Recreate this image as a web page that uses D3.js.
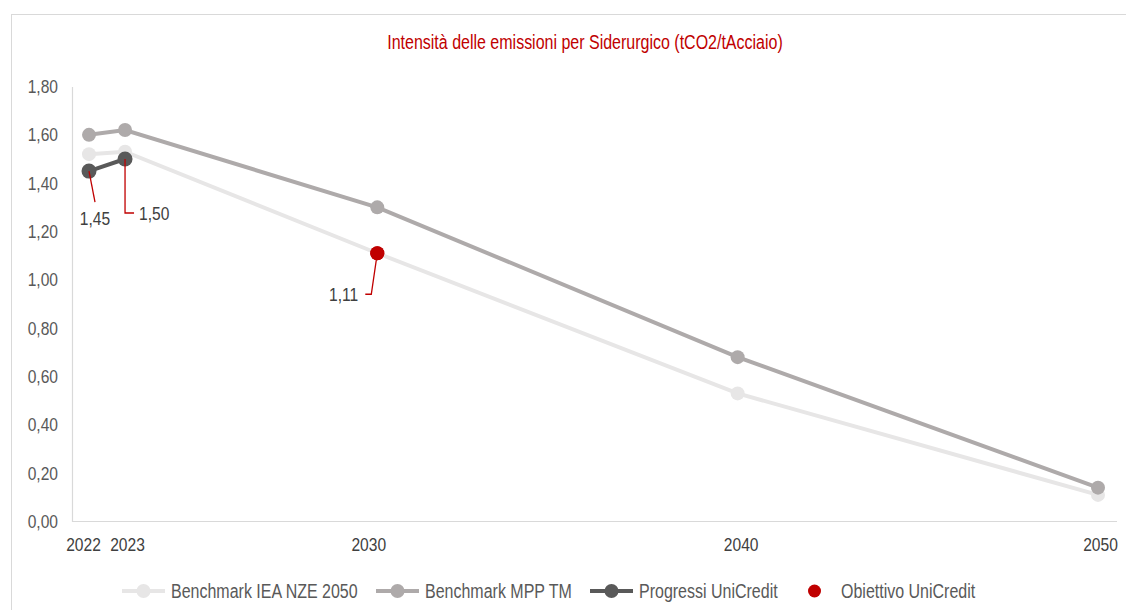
<!DOCTYPE html>
<html>
<head>
<meta charset="utf-8">
<script src="https://cdn.jsdelivr.net/npm/d3@7"></script>
<style>
  body { margin: 0; background: #fff; }
  svg text { font-family: "Liberation Sans", Arial, sans-serif; }
</style>
</head>
<body>
<div id="chart"></div>
<script>
// data
const title = "Intensità delle emissioni per Siderurgico (tCO2/tAcciaio)";
const years = [2022, 2023, 2030, 2040, 2050];
const yTicks = [0, 0.2, 0.4, 0.6, 0.8, 1.0, 1.2, 1.4, 1.6, 1.8];

const ieaYears = [2022, 2023, 2030, 2040, 2050];
const ieaValues = [1.52, 1.53, 1.11, 0.53, 0.11];

const mppYears = [2022, 2023, 2030, 2040, 2050];
const mppValues = [1.60, 1.62, 1.30, 0.68, 0.14];

const progYears = [2022, 2023];
const progValues = [1.45, 1.50];

const targetYears = [2030];
const targetValues = [1.11];

const seriesNames = ["Benchmark IEA NZE 2050", "Benchmark MPP TM", "Progressi UniCredit", "Obiettivo UniCredit"];

const W = 1126, H = 610;
const margin = {top: 86.5, right: 28, bottom: 88.5, left: 72};

const it = d3.formatLocale({decimal: ",", thousands: ".", grouping: [3], currency: ["€", ""]});
const fmt = it.format(".2f");

// no narrow font installed: squeeze the glyphs like Arial Narrow
function condense(sel, k = 0.82) {
  sel.each(function () {
    const len = this.getComputedTextLength();
    d3.select(this)
      .attr("textLength", len * k)
      .attr("lengthAdjust", "spacingAndGlyphs");
  });
}

const svg = d3.select("#chart").append("svg")
    .attr("width", W)
    .attr("height", H);

// frame
svg.append("rect")
    .attr("x", 11.5).attr("y", 14.5)
    .attr("width", W + 10).attr("height", H)
    .attr("fill", "none")
    .attr("stroke", "#d9d9d9");

svg.append("text")
    .attr("x", 585).attr("y", 49)
    .attr("text-anchor", "middle")
    .attr("fill", "#c00000")
    .style("font-size", "19.5px")
    .text(title)
    .call(condense);

const x = d3.scaleLinear()
    .domain([2022, 2050])
    .range([89, 1098]);

const y = d3.scaleLinear()
    .domain([0, 1.8])
    .range([H - margin.bottom, margin.top]);

// y axis
const yAxis = svg.append("g")
    .attr("transform", "translate(" + margin.left + ",0)")
    .call(d3.axisLeft(y).tickValues(yTicks).tickSize(0).tickPadding(14).tickFormat(fmt));
yAxis.select(".domain").attr("stroke", "#d9d9d9").attr("stroke-width", 1.2);
yAxis.selectAll("text").attr("fill", "#595959").style("font-size", "19px").call(condense);

// x axis
const xAxis = svg.append("g")
    .attr("transform", "translate(0," + y(0) + ")")
    .call(d3.axisBottom(x).tickValues(years).tickSize(0).tickPadding(16).tickFormat(d3.format("d")));
xAxis.select(".domain").remove();
xAxis.append("line")
    .attr("x1", margin.left).attr("x2", 1117)
    .attr("stroke", "#d9d9d9").attr("stroke-width", 1.2);
xAxis.selectAll(".tick text")
    .attr("fill", "#404040")
    .style("font-size", "19px")
    .attr("dx", d => d === 2022 ? -6 : d === 2023 ? 2 : d === 2030 ? -9 : d === 2040 ? 3 : 2)
    .call(condense);

const line = d3.line()
    .x(d => x(d[0]))
    .y(d => y(d[1]));

const series = [
  {name: seriesNames[0], data: d3.zip(ieaYears, ieaValues), color: "#e7e6e6", r: 7, line: true},
  {name: seriesNames[1], data: d3.zip(mppYears, mppValues), color: "#aeaaaa", r: 7, line: true},
  {name: seriesNames[2], data: d3.zip(progYears, progValues), color: "#595959", r: 7.5, line: true},
  {name: seriesNames[3], data: d3.zip(targetYears, targetValues), color: "#c00000", r: 7, line: false}
];

series.forEach(s => {
  const g = svg.append("g");
  if (s.line) {
    g.append("path")
      .datum(s.data)
      .attr("d", line)
      .attr("fill", "none")
      .attr("stroke", s.color)
      .attr("stroke-width", 4);
  }
  g.selectAll("circle")
    .data(s.data)
    .enter()
    .append("circle")
      .attr("cx", d => x(d[0]))
      .attr("cy", d => y(d[1]))
      .attr("r", s.r)
      .attr("fill", s.color);
});

// data labels with red leader lines
const labels = [
  {d: [progYears[0], progValues[0]], path: (px, py) => [[px, py], [px + 6, py + 31]], tx: 6, ty: 47, anchor: "middle"},
  {d: [progYears[1], progValues[1]], path: (px, py) => [[px, py], [px, py + 54], [px + 9, py + 54]], tx: 14, ty: 54, anchor: "start"},
  {d: [targetYears[0], targetValues[0]], path: (px, py) => [[px, py], [px - 6, py + 41], [px - 12, py + 41]], tx: -19, ty: 41, anchor: "end"}
];

labels.forEach(l => {
  const px = x(l.d[0]), py = y(l.d[1]);
  svg.append("path")
    .attr("d", d3.line()(l.path(px, py)))
    .attr("fill", "none")
    .attr("stroke", "#c00000")
    .attr("stroke-width", 1.3);
  svg.append("text")
    .attr("x", px + l.tx)
    .attr("y", py + l.ty)
    .attr("dy", "0.35em")
    .attr("text-anchor", l.anchor)
    .attr("fill", "#404040")
    .style("font-size", "19px")
    .text(fmt(l.d[1]))
    .call(condense);
});

// redraw the red marker on top of the light line
svg.append("circle")
  .attr("cx", x(targetYears[0])).attr("cy", y(targetValues[0]))
  .attr("r", 7).attr("fill", "#c00000");

// legend
const legendX = [122, 376, 590, 808];
const legend = svg.append("g").attr("transform", "translate(0,591)");
series.forEach((s, i) => {
  const g = legend.append("g").attr("transform", "translate(" + legendX[i] + ",0)");
  if (s.line) {
    g.append("line")
      .attr("x1", 0).attr("x2", 43)
      .attr("stroke", s.color).attr("stroke-width", 4);
    g.append("circle").attr("cx", 21.5).attr("r", 7).attr("fill", s.color);
  } else {
    g.append("circle").attr("cx", 6.5).attr("r", 6.5).attr("fill", s.color);
  }
  g.append("text")
    .attr("x", s.line ? 49 : 33)
    .attr("dy", "0.35em")
    .attr("fill", "#595959")
    .style("font-size", "19.5px")
    .text(s.name)
    .call(condense);
});
</script>
</body>
</html>
